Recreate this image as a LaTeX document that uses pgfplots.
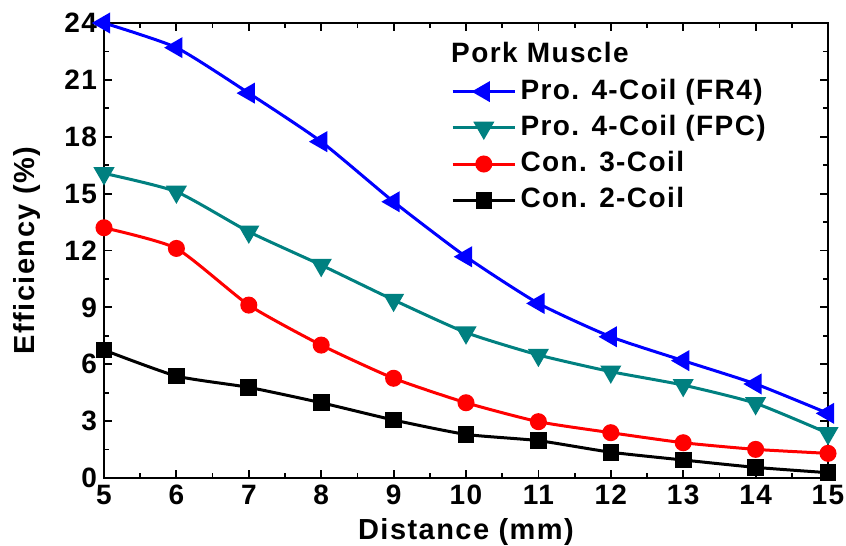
\documentclass[border=0pt]{standalone}
\usepackage{pgfplots}
\pgfplotsset{compat=1.18}
\usepackage{fontspec}
\setmainfont{Liberation Sans}[LetterSpace=5]
\definecolor{tealc}{RGB}{0,128,128}
\begin{document}
\begin{tikzpicture}
\useasboundingbox (-52pt,-34pt) rectangle (371pt,239pt);
\begin{axis}[
  at={(0,0)}, anchor=south west,
  scale only axis, width=362pt, height=227.5pt,
  xmin=5, xmax=15, ymin=0, ymax=24,
  xtick={5,...,15}, ytick={0,3,...,24},
  minor x tick num=1, minor y tick num=1,
  tick align=inside, major tick length=4pt, minor tick length=2.5pt,
  every tick/.style={black, line width=0.9pt},
  axis line style={line width=1.1pt},
  tick label style={font=\fontsize{14}{16}\selectfont\bfseries},
  /pgf/number format/assume math mode=true,
  label style={font=\fontsize{14.5}{16}\selectfont\bfseries},
  xlabel={Distance (mm)}, ylabel={Efficiency (\%)},
  xlabel style={yshift=0pt}, ylabel style={yshift=5pt},
  legend cell align=left,
  legend style={draw=none, fill=none, at={(0.476,0.9725)}, anchor=north west,
    font=\fontsize{14}{16}\selectfont\bfseries, row sep=0.6pt, inner sep=1pt,
    nodes={text height=10.5pt, text depth=3pt, inner sep=2pt}},
  legend image code/.code={\draw[mark repeat=2,mark phase=2,#1] plot coordinates {(0cm,0cm) (0.55cm,0cm) (1.1cm,0cm)};},
  every axis plot/.append style={line width=1.5pt, smooth, tension=0.35},
]
\addlegendimage{empty legend}
\addlegendentry{\hspace{-1.22cm}Pork Muscle}
\addplot[blue, mark=triangle*, mark options={rotate=90}, mark size=4.6pt] coordinates {
(5,24.0) (6,22.7) (7,20.3) (8,17.74) (9,14.57) (10,11.67) (11,9.21) (12,7.45) (13,6.19) (14,4.96) (15,3.41)};
\addlegendentry{Pro. 4-Coil (FR4)}
\addplot[tealc, mark=triangle*, mark options={rotate=180}, mark size=4.6pt] coordinates {
(5,16.07) (6,15.1) (7,12.99) (8,11.23) (9,9.39) (10,7.67) (11,6.49) (12,5.61) (13,4.9) (14,3.94) (15,2.36)};
\addlegendentry{Pro. 4-Coil (FPC)}
\addplot[red, mark=*, mark size=3.5pt] coordinates {
(5,13.2) (6,12.11) (7,9.12) (8,7.01) (9,5.26) (10,3.97) (11,2.97) (12,2.39) (13,1.86) (14,1.51) (15,1.3)};
\addlegendentry{Con. 3-Coil}
\addplot[black, mark=square*, mark size=3.4pt] coordinates {
(5,6.75) (6,5.38) (7,4.78) (8,3.97) (9,3.06) (10,2.3) (11,1.97) (12,1.36) (13,0.95) (14,0.56) (15,0.28)};
\addlegendentry{Con. 2-Coil}
\end{axis}
\end{tikzpicture}
\end{document}
